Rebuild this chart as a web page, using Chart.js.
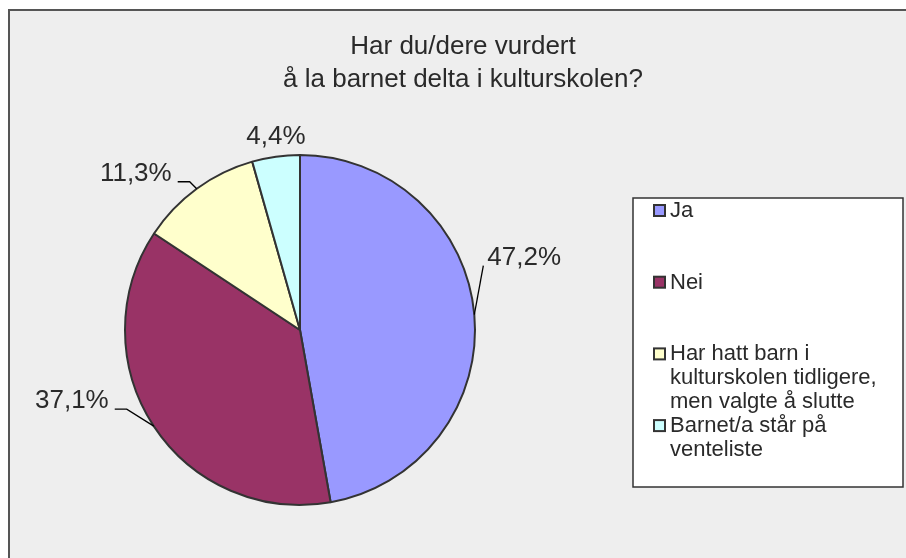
<!DOCTYPE html>
<html>
<head>
<meta charset="utf-8">
<script src="https://cdn.jsdelivr.net/npm/chart.js@4.4.1/dist/chart.umd.min.js"></script>
<style>
  html, body { margin: 0; padding: 0; background: #ffffff; }
  #wrap { width: 906px; height: 558px; position: relative; }
</style>
</head>
<body>
<div id="wrap"><canvas id="c" width="906" height="558"></canvas></div>
<script>
// ---- data ----
const categories = [
  "Ja",
  "Nei",
  "Har hatt barn i kulturskolen tidligere, men valgte å slutte",
  "Barnet/a står på venteliste"
];
const values = [47.2, 37.1, 11.3, 4.4];
const valueLabels = ["47,2%", "37,1%", "11,3%", "4,4%"];
const colors = ["#9999ff", "#993366", "#ffffcc", "#ccffff"];
const titleLines = ["Har du/dere vurdert", "å la barnet delta i kulturskolen?"];

// ---- style / layout ----
const FONT = "'Liberation Sans', Arial, sans-serif";
const TEXT = "#2a2a2a";
// label placement relative to the arc anchor point (mid-angle on the rim)
const labelLayout = [
  { leader: [[9, -49]], text: [13, -57], align: "left" },
  { leader: [[-27, -17], [-39, -17]], text: [-45, -25], align: "right" },
  { leader: [[-7, -7], [-19, -7]], text: [-25, -15], align: "right" },
  { leader: [], text: [0, -20], align: "center" }
];

const framePlugin = {
  id: "frame",
  beforeDraw(chart) {
    const ctx = chart.ctx;
    ctx.save();
    ctx.fillStyle = "#ffffff";
    ctx.fillRect(0, 0, 906, 558);
    ctx.fillStyle = "#eeeeee";
    ctx.fillRect(9, 10, 906, 558);
    ctx.strokeStyle = "#555555";
    ctx.lineWidth = 2;
    ctx.beginPath();
    ctx.moveTo(9, 560);
    ctx.lineTo(9, 10);
    ctx.lineTo(910, 10);
    ctx.stroke();
    ctx.restore();
  },
  afterDraw(chart) {
    const ctx = chart.ctx;
    ctx.save();
    // title
    ctx.fillStyle = TEXT;
    ctx.font = "26px " + FONT;
    ctx.textAlign = "center";
    ctx.textBaseline = "middle";
    titleLines.forEach((t, i) => ctx.fillText(t, 463, 47 + i * 33));

    // data labels
    const meta = chart.getDatasetMeta(0);
    ctx.font = "26px " + FONT;
    meta.data.forEach((arc, i) => {
      const p = arc.getProps(["x", "y", "startAngle", "endAngle", "outerRadius"], true);
      const mid = (p.startAngle + p.endAngle) / 2;
      const ax = p.x + Math.cos(mid) * p.outerRadius;
      const ay = p.y + Math.sin(mid) * p.outerRadius;
      const L = labelLayout[i];
      if (L.leader.length) {
        ctx.strokeStyle = "#000000";
        ctx.lineWidth = 1.3;
        ctx.beginPath();
        ctx.moveTo(ax, ay);
        L.leader.forEach(o => ctx.lineTo(ax + o[0], ay + o[1]));
        ctx.stroke();
      }
      ctx.fillStyle = TEXT;
      ctx.textAlign = L.align;
      ctx.textBaseline = "middle";
      ctx.fillText(valueLabels[i], ax + L.text[0], ay + L.text[1]);
    });

    // legend box
    const bx = 633, by = 198, bw = 270, bh = 289;
    ctx.fillStyle = "#ffffff";
    ctx.fillRect(bx, by, bw, bh);
    ctx.strokeStyle = "#333333";
    ctx.lineWidth = 1.5;
    ctx.strokeRect(bx, by, bw, bh);
    ctx.font = "22px " + FONT;
    ctx.textAlign = "left";
    ctx.textBaseline = "middle";
    const maxW = 222, lineH = 24, step = 71.7;
    categories.forEach((name, i) => {
      const cy = by + 13 + i * step;
      ctx.fillStyle = colors[i];
      ctx.fillRect(654, cy - 6, 11, 11);
      ctx.strokeStyle = "#333333";
      ctx.lineWidth = 2;
      ctx.strokeRect(654, cy - 6, 11, 11);
      // wrap
      const words = name.split(" ");
      const lines = [];
      let cur = "";
      words.forEach(w => {
        const t = cur ? cur + " " + w : w;
        if (ctx.measureText(t).width > maxW && cur) { lines.push(cur); cur = w; }
        else cur = t;
      });
      if (cur) lines.push(cur);
      ctx.fillStyle = TEXT;
      lines.forEach((ln, j) => ctx.fillText(ln, 670, cy + j * lineH));
    });
    ctx.restore();
  }
};

new Chart(document.getElementById("c"), {
  type: "pie",
  data: {
    labels: categories,
    datasets: [{
      data: values,
      backgroundColor: colors,
      borderColor: "#333333",
      borderWidth: 2
    }]
  },
  options: {
    responsive: false,
    devicePixelRatio: 1,
    animation: false,
    radius: 175,
    layout: { padding: { left: 125, right: 431, top: 155, bottom: 53 } },
    plugins: {
      legend: { display: false },
      tooltip: { enabled: false },
      title: { display: false }
    }
  },
  plugins: [framePlugin]
});
</script>
</body>
</html>
